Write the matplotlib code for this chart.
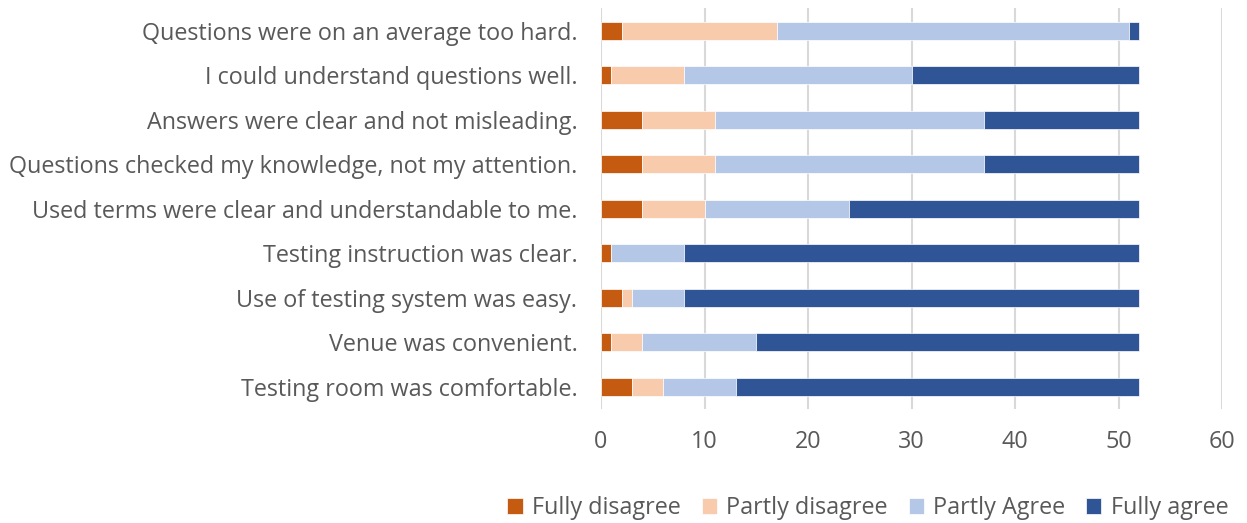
import matplotlib.pyplot as plt
import numpy as np

categories = [
    "Questions were on an average too hard.",
    "I could understand questions well.",
    "Answers were clear and not misleading.",
    "Questions checked my knowledge, not my attention.",
    "Used terms were clear and understandable to me.",
    "Testing instruction was clear.",
    "Use of testing system was easy.",
    "Venue was convenient.",
    "Testing room was comfortable.",
]
fully_disagree = [2, 1, 4, 4, 4, 1, 2, 1, 3]
partly_disagree = [15, 7, 7, 7, 6, 0, 1, 3, 3]
partly_agree = [34, 22, 26, 26, 14, 7, 5, 11, 7]
fully_agree = [1, 22, 15, 15, 28, 44, 44, 37, 39]

series = [
    ("Fully disagree", fully_disagree, "#C55A11"),
    ("Partly disagree", partly_disagree, "#F8CBAD"),
    ("Partly Agree", partly_agree, "#B4C7E7"),
    ("Fully agree", fully_agree, "#2F5597"),
]

plt.rcParams['font.family'] = ['Open Sans', 'DejaVu Sans']
text_color = "#595959"
fs = 16.8

fig = plt.figure(figsize=(12.47, 5.23), dpi=100)
ax = fig.add_axes([0.482, 0.218, 0.498, 0.766])

y = np.arange(len(categories))
left = np.zeros(len(categories))
for name, vals, color in series:
    ax.barh(y, vals, left=left, height=0.4, color=color, label=name,
            edgecolor="white", linewidth=0.5, zorder=3)
    left += np.array(vals)

ax.set_yticks(y)
ax.set_yticklabels(categories, fontsize=fs, color=text_color)
ax.set_ylim(len(categories) - 0.5, -0.5)
ax.set_xlim(0, 60)
ax.set_xticks(range(0, 61, 10))
ax.tick_params(axis='x', labelsize=fs, colors=text_color, length=0, pad=15)
ax.tick_params(axis='y', length=0, pad=17)
ax.grid(axis='x', color="#D9D9D9", linewidth=1.5, zorder=0)
for s in ax.spines.values():
    s.set_visible(False)

fig.legend(loc="lower center", bbox_to_anchor=(0.696, -0.035), ncol=4, frameon=False,
           fontsize=fs, labelcolor=text_color, handlelength=0.65, handleheight=0.65,
           columnspacing=0.9, handletextpad=0.4)

fig.savefig("out.png", dpi=100)
